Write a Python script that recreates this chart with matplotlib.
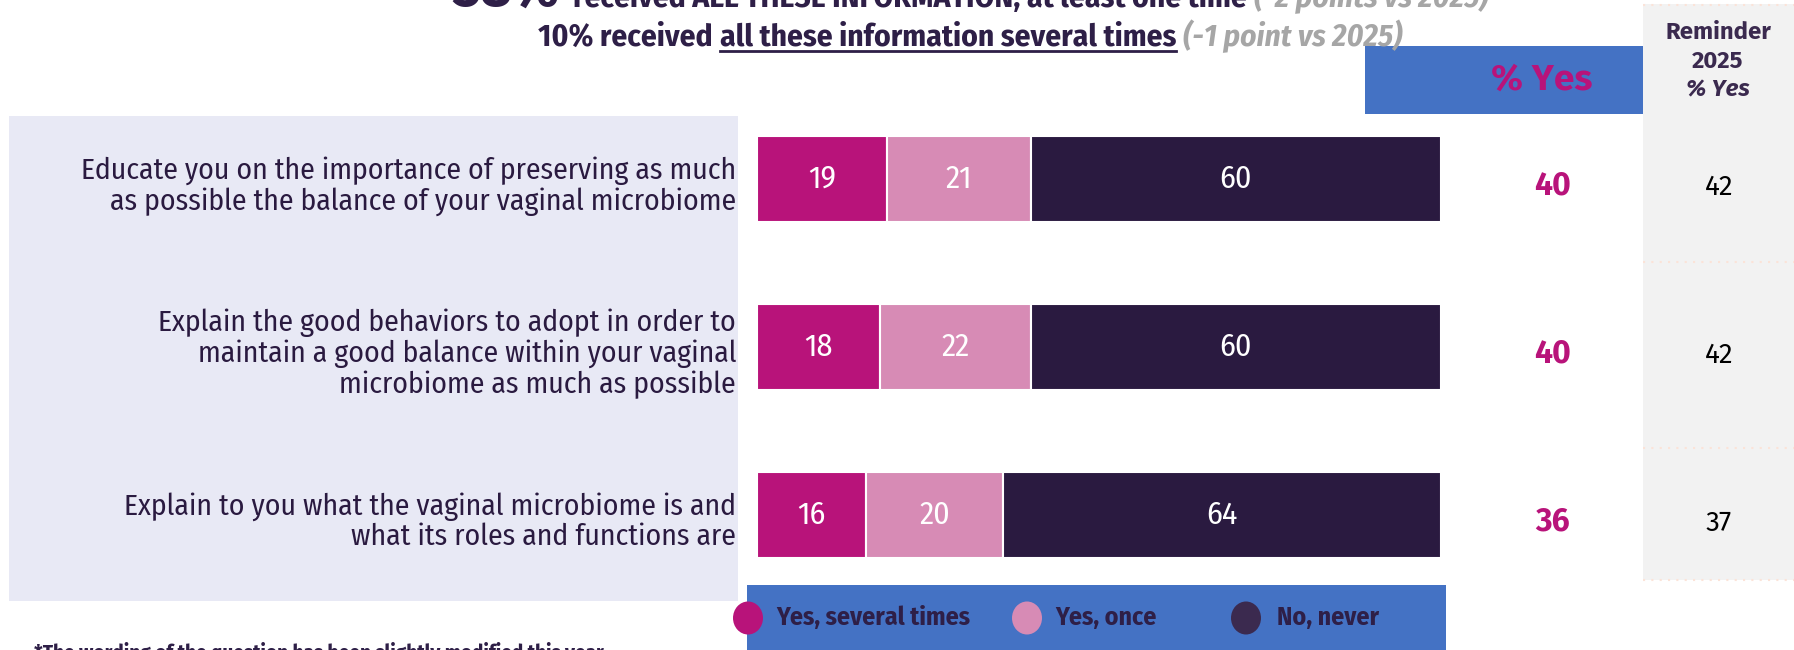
import matplotlib.pyplot as plt
from matplotlib import font_manager
from matplotlib.patches import Rectangle, Ellipse
from matplotlib.lines import Line2D
import matplotlib.transforms as mtransforms

W, H = 1794, 650

statements = [
    "Educate you on the importance of preserving as much\nas possible the balance of your vaginal microbiome",
    "Explain the good behaviors to adopt in order to\nmaintain a good balance within your vaginal\nmicrobiome as much as possible",
    "Explain to you what the vaginal microbiome is and\nwhat its roles and functions are",
]
several_times = [19, 18, 16]
once = [21, 22, 20]
never = [60, 60, 64]
yes_total = [40, 40, 36]
reminder_2025 = [42, 42, 37]
legend_labels = ["Yes, several times", "Yes, once", "No, never"]

MAGENTA = "#B8137A"
PINK = "#D78BB5"
DARK = "#2A1A40"
LEG_DARK = "#3B2A4F"
BLUE = "#4472C4"
LAVENDER = "#E8E9F5"
GREY = "#F2F2F2"
TXT = "#2E1F47"
GREYTXT = "#A6A6A6"


def pick(cands, default):
    names = {f.name for f in font_manager.fontManager.ttflist}
    for c in cands:
        if c in names:
            return [c, "DejaVu Sans"]
    return [default, "DejaVu Sans"]


# police étroite si dispo, sinon Lato
COND = pick(["Fira Sans Condensed", "Roboto Condensed", "Liberation Sans Narrow"], "Lato")
SANS = pick(["Fira Sans", "Lato"], "DejaVu Sans")

fig = plt.figure(figsize=(W / 100, H / 100), dpi=100)
renderer = fig.canvas.get_renderer()


def fx(x):
    return x / W


def fy(y):
    return 1 - y / H


def box(x0, y0, x1, y1, color):
    fig.patches.append(Rectangle((fx(x0), fy(y1)), (x1 - x0) / W, (y1 - y0) / H,
                                 transform=fig.transFigure, facecolor=color,
                                 edgecolor="none", zorder=-5))


def fit(t, target_w):
    w = t.get_window_extent(renderer).width
    t.set_fontsize(t.get_fontsize() * target_w / w)
    return t.get_fontsize()


# fonds
box(9, 116, 738, 601, LAVENDER)
box(1643, 4, 1794, 580, GREY)
box(1365, 46, 1643, 114, BLUE)
box(747, 585, 1446, 650, BLUE)

for yy in [5, 262, 448, 580]:
    fig.lines.append(Line2D([fx(1643), fx(1794)], [fy(yy), fy(yy)], transform=fig.transFigure,
                            color="#FBE3D8", linestyle=(0, (1, 3)), linewidth=1.5))

# barres
ax = fig.add_axes([fx(757), fy(599), (1441 - 757) / W, (599 - 95) / H])
ax.set_xlim(0, 100)
ax.set_ylim(len(statements) - 0.5, -0.5)
ax.axis("off")

rows = list(range(len(statements)))
lefts = [0] * len(rows)
for vals, col in zip([several_times, once, never], [MAGENTA, PINK, DARK]):
    bars = ax.barh(rows, vals, left=lefts, height=0.51, color=col, edgecolor="white", linewidth=1.5)
    ax.bar_label(bars, labels=[str(v) for v in vals], label_type="center",
                 color="white", fontsize=23, family=COND)
    lefts = [l + v for l, v in zip(lefts, vals)]

row_tr = mtransforms.blended_transform_factory(fig.transFigure, ax.transData)

# libellés : taille calée sur la largeur de la 1re ligne
probe = fig.text(0, 0, statements[0].split("\n")[0], fontsize=20, family=COND)
lab_fs = fit(probe, 656)
probe.remove()
lp_h = renderer.get_text_width_height_descent(
    "lp", font_manager.FontProperties(family=COND, size=lab_fs), ismath=False)[1]
lab_ls = 31 / lp_h

for i, s in enumerate(statements):
    fig.text(fx(736), i + 0.04, s, transform=row_tr, ha="right", va="center",
             fontsize=lab_fs, color=DARK, family=COND, linespacing=lab_ls)
    fig.text(fx(1552), i + 0.04, str(yes_total[i]), transform=row_tr, ha="center", va="center",
             fontsize=23, fontweight="bold", color=MAGENTA, family=SANS)
    fig.text(fx(1719), i + 0.05, str(reminder_2025[i]), transform=row_tr, ha="center", va="center",
             fontsize=20, color="black", family=SANS)

# entêtes colonnes
t = fig.text(fx(1542), fy(80), "% Yes", ha="center", va="center", fontsize=26,
             fontweight="bold", color=MAGENTA, family=SANS)
fit(t, 101)
t = fig.text(fx(1718), fy(32), "Reminder", ha="center", va="center", fontsize=16,
             fontweight="bold", color=LEG_DARK, family=SANS)
rem_fs = fit(t, 106)
fig.text(fx(1718), fy(61), "2025", ha="center", va="center", fontsize=rem_fs,
         fontweight="bold", color=LEG_DARK, family=SANS)
fig.text(fx(1718), fy(90), "% Yes", ha="center", va="center", fontsize=rem_fs,
         fontweight="bold", fontstyle="italic", color=LEG_DARK, family=SANS)

# légende
leg_circles = [748, 1027, 1246]
leg_texts = [776, 1055, 1277]
for cx, tx, lab, col in zip(leg_circles, leg_texts, legend_labels, [MAGENTA, PINK, LEG_DARK]):
    fig.patches.append(Ellipse((fx(cx), fy(618)), 30 / W, 33 / H, transform=fig.transFigure,
                               facecolor=col, edgecolor="none"))
    t = fig.text(fx(tx), fy(618), lab, ha="left", va="center", fontsize=17,
                 fontweight="bold", color=TXT, family=COND)
    if lab == legend_labels[0]:
        leg_fs = fit(t, 194)
    else:
        t.set_fontsize(leg_fs)


# titres en morceaux
def chain(pieces, x0, x1, base_y, under_gap=5):
    texts = []
    for s, kw, under in pieces:
        texts.append((fig.text(0, fy(base_y), s, ha="left", va="baseline", **kw), under))

    def layout():
        x = x0
        out = []
        for tt, under in texts:
            tt.set_x(fx(x))
            bb = tt.get_window_extent(renderer)
            out.append((bb.x0, bb.x1))
            x = bb.x1 + tt.get_fontsize() * 0.32
        return out

    ext = layout()
    k = (x1 - x0) / (ext[-1][1] - x0)
    for tt, _ in texts:
        tt.set_fontsize(tt.get_fontsize() * k)
    ext = layout()
    for (tt, under), (a, b) in zip(texts, ext):
        if under:
            fig.lines.append(Line2D([fx(a), fx(b)], [fy(base_y + under_gap)] * 2,
                                    transform=fig.transFigure, color=TXT, linewidth=2))


bold_kw = dict(fontsize=21, fontweight="bold", color=TXT, family=COND)
grey_kw = dict(fontsize=21, fontweight="bold", fontstyle="italic", color=GREYTXT, family=COND)

chain([("38%", dict(fontsize=40, fontweight="bold", color=TXT, family=COND), False),
       ("received ALL THESE INFORMATION, at least one time", dict(bold_kw), False),
       ("(-2 points vs 2025)", dict(grey_kw), False)], 452, 1491, 7)

chain([("10% received", dict(bold_kw), False),
       ("all these information several times", dict(bold_kw), True),
       ("(-1 point vs 2025)", dict(grey_kw), False)], 538, 1405, 46)

t = fig.text(fx(34), fy(642), "*The wording of the question has been slightly modified this year",
             ha="left", va="top", fontsize=15, fontweight="bold", color=TXT, family=COND)
fit(t, 572)

fig.savefig("out.png", dpi=100)
